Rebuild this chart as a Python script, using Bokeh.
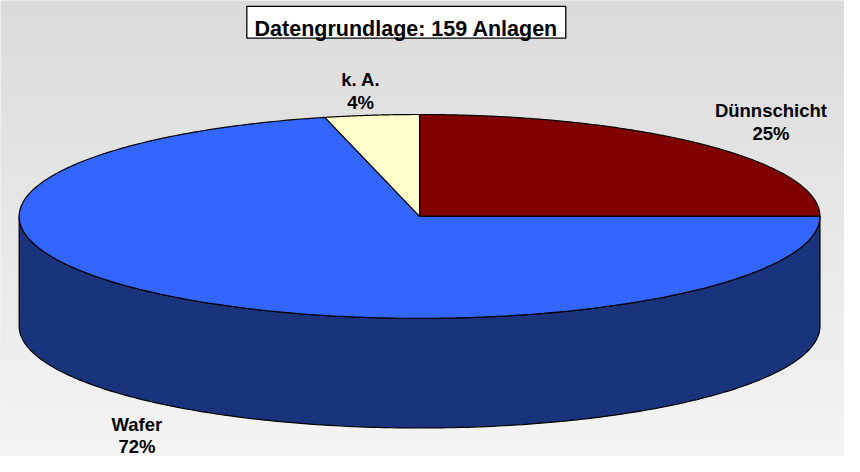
import numpy as np
from bokeh.plotting import figure
from bokeh.models import Range1d
from bokeh.core.properties import value
from bokeh.embed import file_html
from bokeh.resources import INLINE

# ---- data ----
categories = ["Dünnschicht", "Wafer", "k. A."]
shares = [25.0, 71.2, 3.8]
pct_labels = ["25%", "72%", "4%"]
title_text = "Datengrundlage: 159 Anlagen"

# ---- style ----
top_colors = ["#800000", "#3366FF", "#FFFFCC"]
side_colors = ["#400000", "#19337D", "#808066"]
FONT = value("Liberation Sans")

# ---- layout (reference pixel space 860 x 472, y down) ----
REF_W, REF_H = 860, 472
cx, cy, rx, ry, depth = 427.0, 223.5, 408.0, 105.5, 113.5
label_pos = [(785, 114, 138), (139, 439, 462), (367, 82, 106)]  # x, baseline line1, baseline line2


def Y(y):
    return REF_H - y


p = figure(width=844, height=456, output_backend="svg", toolbar_location=None,
           x_range=Range1d(0, REF_W), y_range=Range1d(0, REF_H), min_border=0)
p.axis.visible = False
p.grid.visible = False
p.outline_line_color = None
p.background_fill_color = "#E8E8E8"
p.border_fill_color = "#E8E8E8"

# background vertical gradient
n = 200
t = np.linspace(0, 1, n)  # 0 bottom -> 1 top
g = (244 - (244 - 219) * t).astype(np.uint32)
img = np.empty((n, 1), dtype=np.uint32)
view = img.view(dtype=np.uint8).reshape((n, 1, 4))
view[:, 0, 0] = g
view[:, 0, 1] = g
view[:, 0, 2] = g
view[:, 0, 3] = 255
p.image_rgba(image=[img], x=0, y=0, dw=REF_W, dh=REF_H)

# pie geometry
total = float(sum(shares))
bounds = []
acc = 0.0
for s in shares:
    a0 = acc / total * 2 * np.pi
    acc += s
    a1 = acc / total * 2 * np.pi
    bounds.append((a0, a1))


def ex(a):
    return cx + rx * np.sin(a)


def ey(a, off=0.0):
    return cy - ry * np.cos(a) + off


# side walls (front half only: angles pi/2 .. 3pi/2)
side_xs, side_ys, side_c = [], [], []
for (a0, a1), col in zip(bounds, side_colors):
    lo, hi = max(a0, np.pi / 2), min(a1, 3 * np.pi / 2)
    if hi <= lo:
        continue
    arc = np.linspace(lo, hi, 200)
    xs = np.concatenate([ex(arc), ex(arc[::-1])])
    ys = np.concatenate([ey(arc), ey(arc[::-1], depth)])
    side_xs.append(list(xs))
    side_ys.append([Y(v) for v in ys])
    side_c.append(col)
p.patches(side_xs, side_ys, fill_color=side_c, line_color="black", line_width=1.2)

# top faces
top_xs, top_ys = [], []
for (a0, a1) in bounds:
    arc = np.linspace(a0, a1, 300)
    xs = np.concatenate([[cx], ex(arc), [cx]])
    ys = np.concatenate([[cy], ey(arc), [cy]])
    top_xs.append(list(xs))
    top_ys.append([Y(v) for v in ys])
p.patches(top_xs, top_ys, fill_color=top_colors, line_color="black", line_width=1.2)

# data labels
for cat, pct, (lx, b1, b2) in zip(categories, pct_labels, label_pos):
    p.text(x=[lx, lx], y=[Y(b1), Y(b2)], text=[cat, pct], text_align="center",
           text_baseline="alphabetic", text_font=FONT, text_font_style="bold",
           text_font_size="18.5px", text_color="black")

# title box
p.quad(left=[251], right=[576], top=[Y(6)], bottom=[Y(39)], fill_color="white",
       line_color="black", line_width=1.3)
p.text(x=[413.5], y=[Y(29.5)], text=[title_text], text_align="center",
       text_baseline="alphabetic", text_font=FONT, text_font_style="bold",
       text_font_size="21.5px", text_color="black")

open("out.html", "w").write(file_html(p, INLINE))
